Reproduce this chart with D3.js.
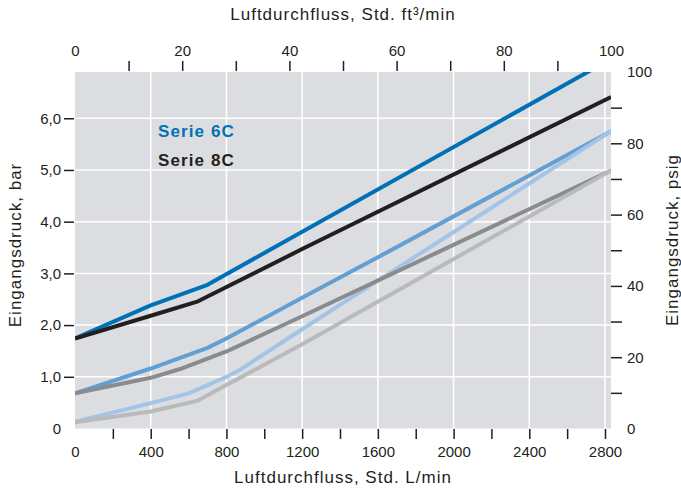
<!DOCTYPE html>
<html>
<head>
<meta charset="utf-8">
<script src="https://cdn.jsdelivr.net/npm/d3@7"></script>
<style>
  body { margin: 0; background: #fff; }
  svg text { font-family: "Liberation Sans", Arial, Helvetica, sans-serif; fill: #231f20; }
</style>
</head>
<body>
<svg width="681" height="492"></svg>
<script>
// air flow in L/min, pressure in bar
const serie6c_high = [[0, 1.74], [400, 2.38], [700, 2.78], [2760, 7.0]]
const serie6c_mid = [[0, 0.68], [400, 1.16], [700, 1.56], [800, 1.74], [1200, 2.53], [1600, 3.31], [2832, 5.75]]
const serie6c_low = [[0, 0.13], [400, 0.49], [600, 0.68], [800, 1.0], [870, 1.13], [1200, 1.92], [1400, 2.39], [2832, 5.75]]
const serie8c_high = [[0, 1.74], [400, 2.18], [650, 2.46], [1200, 3.47], [2832, 6.41]]
const serie8c_mid = [[0, 0.68], [400, 0.98], [555, 1.15], [800, 1.49], [1200, 2.17], [2832, 4.99]]
const serie8c_low = [[0, 0.12], [400, 0.33], [650, 0.54], [800, 0.84], [1200, 1.63], [2832, 4.99]]

const lpm_labels = [0, 400, 800, 1200, 1600, 2000, 2400, 2800]
const lpm_ticks = d3.range(200, 2801, 200)
const cfm_labels = [0, 20, 40, 60, 80, 100]
const cfm_ticks = d3.range(10, 91, 10)
const bar_labels = ["0", "1,0", "2,0", "3,0", "4,0", "5,0", "6,0"]
const psig_labels = [0, 20, 40, 60, 80, 100]
const psig_ticks = d3.range(10, 91, 10)
const legend_labels = ["Serie 6C", "Serie 8C"]

const lpm_per_cfm = 28.317
const bar_per_psig = 0.068948

const plot_left = 75, plot_right = 611, plot_top = 72, plot_bottom = 428.5
const line_width = 4
const ink = "#231f20"
const plain = d3.format("d")

const x = d3.scaleLinear().domain([0, 100 * lpm_per_cfm]).range([plot_left, plot_right])
const x_cfm = d3.scaleLinear().domain([0, 100]).range([plot_left, plot_right])
const y = d3.scaleLinear().domain([0, 100 * bar_per_psig]).range([plot_bottom, plot_top])
const y_psig = d3.scaleLinear().domain([0, 100]).range([plot_bottom, plot_top])

const svg = d3.select("svg")

svg.append("defs").append("clipPath").attr("id", "plot")
    .append("rect")
    .attr("x", plot_left).attr("y", plot_top)
    .attr("width", plot_right - plot_left).attr("height", plot_bottom - plot_top)

svg.append("rect")
    .attr("x", plot_left).attr("y", plot_top)
    .attr("width", plot_right - plot_left).attr("height", plot_bottom - plot_top)
    .attr("fill", "#dcdde0")

// white grid
svg.append("g").selectAll("line")
    .data(lpm_labels.slice(1))
    .join("line")
    .attr("x1", d => x(d)).attr("x2", d => x(d))
    .attr("y1", plot_top).attr("y2", plot_bottom)
    .attr("stroke", "#fff").attr("stroke-width", 1.5)

svg.append("g").selectAll("line")
    .data(d3.range(1, bar_labels.length))
    .join("line")
    .attr("x1", plot_left).attr("x2", plot_right)
    .attr("y1", d => y(d)).attr("y2", d => y(d))
    .attr("stroke", "#fff").attr("stroke-width", 1.5)

// curves
const series = [
    { values: serie6c_mid, color: "#62a0d3" },
    { values: serie6c_low, color: "#a3c4e6" },
    { values: serie6c_high, color: "#0071b6" },
    { values: serie8c_mid, color: "#8a8b8e" },
    { values: serie8c_low, color: "#b9babc" },
    { values: serie8c_high, color: ink },
]

const line = d3.line().x(d => x(d[0])).y(d => y(d[1]))

svg.append("g").attr("clip-path", "url(#plot)")
    .selectAll("path")
    .data(series)
    .join("path")
    .attr("d", s => line(s.values))
    .attr("fill", "none")
    .attr("stroke", s => s.color)
    .attr("stroke-width", line_width)
    .attr("stroke-linejoin", "round")

// axes
function style_axis(g, size) {
    g.select(".domain").remove()
    g.selectAll(".tick line").attr("stroke", ink).attr("stroke-width", 1.5)
    g.selectAll(".tick text").attr("fill", ink)
        .style("font-size", size + "px")
        .style("font-family", '"Liberation Sans", Arial, sans-serif')
}

svg.append("g").attr("transform", `translate(0,${plot_bottom + 0.5})`)
    .call(d3.axisBottom(x).tickValues(lpm_ticks).tickSize(10).tickFormat(""))
    .call(g => style_axis(g, 15))
svg.append("g").attr("transform", `translate(0,${plot_bottom + 0.5})`)
    .call(d3.axisBottom(x).tickValues(lpm_labels).tickSize(0).tickPadding(17).tickFormat(plain))
    .call(g => style_axis(g, 15))

svg.append("g").attr("transform", `translate(0,${plot_top - 1})`)
    .call(d3.axisTop(x_cfm).tickValues(cfm_ticks).tickSize(10).tickFormat(""))
    .call(g => style_axis(g, 15))
svg.append("g").attr("transform", `translate(0,${plot_top - 1})`)
    .call(d3.axisTop(x_cfm).tickValues(cfm_labels).tickSize(0).tickPadding(15).tickFormat(plain))
    .call(g => style_axis(g, 15))

svg.append("g").attr("transform", `translate(${plot_left - 1},0)`)
    .call(d3.axisLeft(y).tickValues(d3.range(1, bar_labels.length)).tickSize(10).tickFormat(""))
    .call(g => style_axis(g, 15))
svg.append("g").attr("transform", `translate(${plot_left - 1},0)`)
    .call(d3.axisLeft(y).tickValues(d3.range(bar_labels.length)).tickSize(0).tickPadding(13)
        .tickFormat(d => bar_labels[d]))
    .call(g => style_axis(g, 15))

svg.append("g").attr("transform", `translate(${plot_right},0)`)
    .call(d3.axisRight(y_psig).tickValues(psig_ticks).tickSize(11).tickFormat(""))
    .call(g => style_axis(g, 15))
svg.append("g").attr("transform", `translate(${plot_right},0)`)
    .call(d3.axisRight(y_psig).tickValues(psig_labels).tickSize(0).tickPadding(16).tickFormat(plain))
    .call(g => style_axis(g, 15))

// titles
const title_style = "font-size: 17px; letter-spacing: 1px;"
svg.append("text")
    .attr("x", 343).attr("y", 483)
    .attr("text-anchor", "middle").attr("style", title_style)
    .text("Luftdurchfluss, Std. L/min")
svg.append("text")
    .attr("x", 343).attr("y", 20)
    .attr("text-anchor", "middle").attr("style", title_style)
    .text("Luftdurchfluss, Std. ft³/min")
svg.append("text")
    .attr("transform", "translate(21,245) rotate(-90)")
    .attr("text-anchor", "middle").attr("style", title_style)
    .text("Eingangsdruck, bar")
svg.append("text")
    .attr("transform", "translate(678,240) rotate(-90)")
    .attr("text-anchor", "middle").attr("style", title_style)
    .text("Eingangsdruck, psig")

// legend
svg.append("g").selectAll("text")
    .data(legend_labels)
    .join("text")
    .attr("x", 158)
    .attr("y", (d, i) => 136.5 + i * 29)
    .attr("style", "font-size: 17px; font-weight: bold; letter-spacing: 1.1px;")
    .style("fill", (d, i) => i === 0 ? "#0071b6" : ink)
    .text(d => d)
</script>
</body>
</html>
